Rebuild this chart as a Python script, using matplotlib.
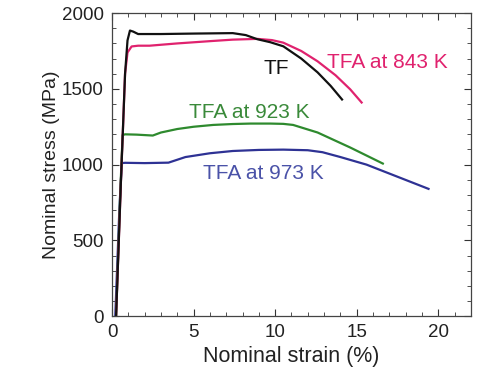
import matplotlib
matplotlib.use("Agg")
import matplotlib.pyplot as plt
from matplotlib.ticker import MultipleLocator

plt.rcParams["font.family"] = ["Liberation Sans", "DejaVu Sans"]

# Nominal stress-strain curves
tf_strain = [0.25, 0.55, 0.8, 0.95, 1.1, 1.3, 1.6, 3.0, 5.0, 7.4, 8.2, 8.9, 9.7, 10.5, 11.6, 12.6, 13.4, 14.1]
tf_stress = [0, 900, 1600, 1820, 1885, 1878, 1862, 1862, 1865, 1868, 1855, 1828, 1808, 1781, 1700, 1609, 1520, 1430]

tfa843_strain = [0.25, 0.55, 0.8, 0.95, 1.2, 1.6, 2.3, 4.0, 6.0, 7.4, 8.9, 9.8, 10.5, 11.6, 12.6, 13.7, 14.6, 15.3]
tfa843_stress = [0, 900, 1600, 1740, 1780, 1785, 1785, 1800, 1815, 1825, 1830, 1822, 1805, 1750, 1682, 1590, 1497, 1410]

tfa923_strain = [0.25, 0.5, 0.65, 0.8, 1.5, 2.5, 3.0, 4.0, 5.0, 6.2, 7.4, 8.5, 9.7, 10.5, 11.1, 12.6, 14.6, 16.6]
tfa923_stress = [0, 800, 1195, 1200, 1198, 1192, 1212, 1235, 1250, 1262, 1268, 1271, 1271, 1269, 1262, 1212, 1113, 1007]

tfa973_strain = [0.2, 0.45, 0.6, 0.8, 2.0, 3.46, 4.5, 6.0, 7.4, 9.0, 10.5, 12.0, 12.9, 14.0, 15.6, 17.5, 19.4]
tfa973_stress = [0, 700, 1010, 1012, 1010, 1013, 1050, 1075, 1090, 1097, 1099, 1095, 1082, 1050, 1000, 920, 840]

labels = ["TF", "TFA at 843 K", "TFA at 923 K", "TFA at 973 K"]
line_colors = ["#111111", "#e0226e", "#2e8a2e", "#2e3294"]
text_colors = ["#111111", "#e0226e", "#3a8a3a", "#4a52a8"]
label_pos = [(276, 69), (387, 62), (249, 112), (263, 173)]  # pixel centres of labels

fig = plt.figure(figsize=(4.87, 3.75), dpi=100)
ax = fig.add_axes([0.230, 0.157, 0.737, 0.808])

curves = [(tf_strain, tf_stress), (tfa843_strain, tfa843_stress),
          (tfa923_strain, tfa923_stress), (tfa973_strain, tfa973_stress)]
# draw low-stress curves first so TF sits on top
for (x, y), c in reversed(list(zip(curves, line_colors))):
    ax.plot(x, y, color=c, lw=1.6, solid_joinstyle="round")

ax.set_xlim(0, 22)
ax.set_ylim(0, 2000)
ax.xaxis.set_major_locator(MultipleLocator(5))
ax.xaxis.set_minor_locator(MultipleLocator(1))
ax.yaxis.set_major_locator(MultipleLocator(500))
ax.yaxis.set_minor_locator(MultipleLocator(100))
ax.tick_params(which="both", direction="in", top=True, right=True,
               labelsize=13.5, colors="#333333", labelcolor="#222222")
ax.tick_params(which="major", length=5, width=0.8)
ax.tick_params(which="minor", length=3, width=0.6)
ax.tick_params(axis="x", which="major", pad=6)
ax.tick_params(axis="y", which="major", pad=6)
for s in ax.spines.values():
    s.set_color("#444444")
    s.set_linewidth(0.9)

ax.set_xlabel("Nominal strain (%)", fontsize=15.5, color="#222222", labelpad=3)
ax.set_ylabel("Nominal stress (MPa)", fontsize=14, color="#222222", labelpad=1)

for lab, col, (px, py) in zip(labels, text_colors, label_pos):
    fig.text(px / 487, 1 - py / 375, lab, color=col, fontsize=15,
             ha="center", va="center")

fig.savefig("out.png", dpi=100)
